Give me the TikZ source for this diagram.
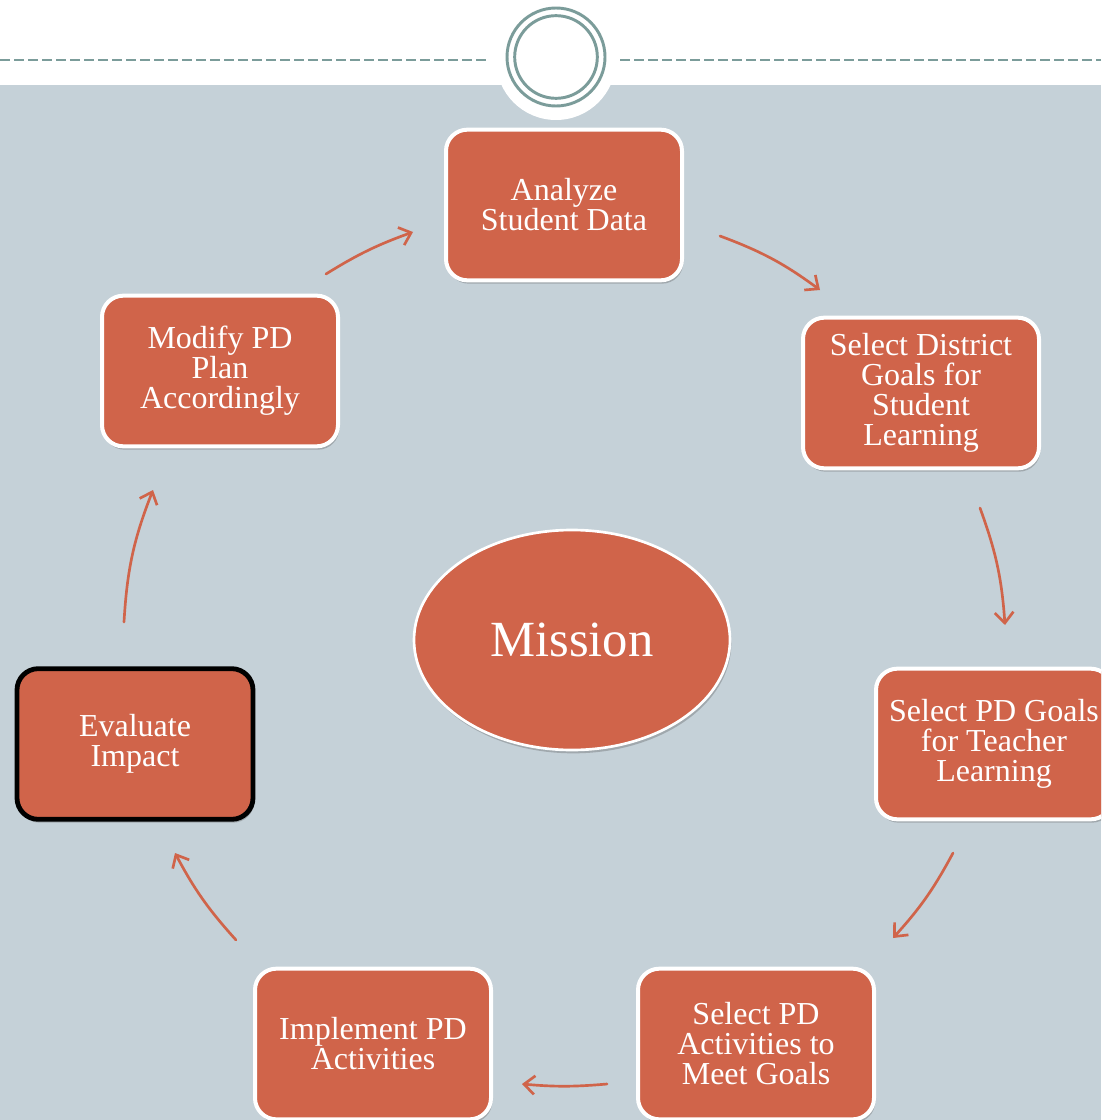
\documentclass[tikz,border=0pt]{standalone}
\usepackage{fontspec}
\setmainfont{Liberation Serif}
\usetikzlibrary{arrows.meta,shadows,shapes.geometric}
\definecolor{bgcol}{HTML}{C5D1D8}
\definecolor{boxcol}{HTML}{D0644A}
\definecolor{ringcol}{HTML}{7B9C9A}
\definecolor{arrcol}{HTML}{D0644A}
\begin{document}
\begin{tikzpicture}[x=0.75pt,y=-0.75pt,
  box/.style={draw=white, line width=3pt, fill=boxcol, rounded corners=16pt,
    minimum width=177pt, minimum height=113pt, inner sep=0pt, text=white, align=center,
    font=\fontsize{24}{22.5}\selectfont,
    drop shadow={shadow xshift=1pt, shadow yshift=-2.5pt, opacity=0.3, fill=black!70}},
  blackbox/.style={box, draw=black, line width=3.6pt},
  arr/.style={draw=arrcol, line width=2pt, line cap=round,
    -{Straight Barb[length=8pt,width=14pt,line width=2pt]}},
  ring/.style={draw=ringcol, line width=2.2pt},
  dashline/.style={draw=ringcol, line width=1.5pt, dash pattern=on 7.5pt off 3pt}
]
\useasboundingbox (0,0) rectangle (1101,1120);
\clip (0,0) rectangle (1101,1120);
% background
\fill[white] (0,0) rectangle (1101,1120);
\fill[bgcol] (0,85) rectangle (1101,1120);
\fill[white] (556,60) circle[radius=45pt];
% header
\draw[dashline] (0,60) -- (490,60);
\draw[dashline] (620,60) -- (1101,60);
\node[ring, circle, minimum size=73.5pt, inner sep=0pt] (ringout) at (556,57) {};
\node[ring, circle, minimum size=62pt, inner sep=0pt] (ringin) at (556,57) {};
% boxes
\node[box] (A) at (564,205) {Analyze\\Student Data};
\node[box] (D) at (921,393) {Select District\\Goals for\\Student\\Learning};
\node[box] (G) at (994,744) {Select PD Goals\\for Teacher\\Learning};
\node[box] (S) at (756,1044) {Select PD\\Activities to\\Meet Goals};
\node[box] (I) at (373,1044) {Implement PD\\Activities};
\node[blackbox] (E) at (135,744) {Evaluate\\Impact};
\node[box] (M) at (220,371) {Modify PD\\Plan\\Accordingly};
\node[ellipse, draw=white, line width=2pt, fill=boxcol, minimum width=237pt, minimum height=165pt,
  inner sep=0pt, text=white, font=\fontsize{38}{40}\selectfont,
  drop shadow={shadow xshift=1pt, shadow yshift=-2.5pt, opacity=0.3, fill=black!70}] (mission) at (572,640) {Mission};
% arrow end points
\coordinate (a1s) at (720,236); \coordinate (a1e) at (820,290);
\coordinate (a2s) at (980,508); \coordinate (a2e) at (1005,625);
\coordinate (a3s) at (953,853); \coordinate (a3e) at (893,938);
\coordinate (a4s) at (607,1084); \coordinate (a4e) at (522,1084);
\coordinate (a5s) at (236,940); \coordinate (a5e) at (175,853);
\coordinate (a6s) at (124,622); \coordinate (a6e) at (153,490);
\coordinate (a7s) at (326,274); \coordinate (a7e) at (413,232);
\draw[arr] (a1s) to[bend left=8] (a1e);
\draw[arr] (a2s) to[bend left=8] (a2e);
\draw[arr] (a3s) to[bend left=7] (a3e);
\draw[arr] (a4s) to[bend left=5] (a4e);
\draw[arr] (a5s) to[bend left=7] (a5e);
\draw[arr] (a6s) to[bend left=9] (a6e);
\draw[arr] (a7s) to[bend left=6] (a7e);
\end{tikzpicture}
\end{document}
